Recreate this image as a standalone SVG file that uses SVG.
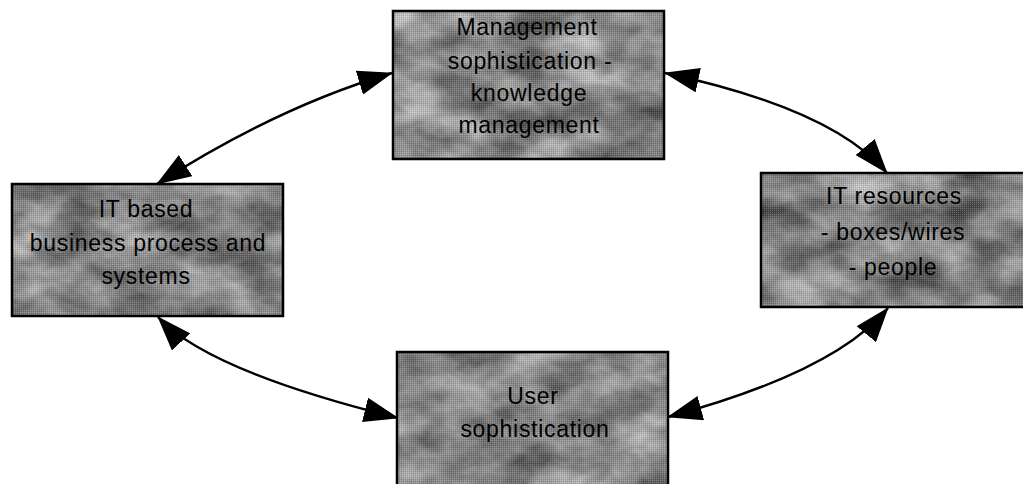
<svg xmlns="http://www.w3.org/2000/svg" width="1023" height="484" viewBox="0 0 1023 484">
<style>
.box{stroke:#000;stroke-width:2.5;fill:none}
.tex{fill:#888}
.lbl{font-family:"Liberation Sans",Arial,sans-serif;font-size:23px;letter-spacing:0.7px;fill:#000;text-anchor:middle}
.conn{fill:none;stroke:#000;stroke-width:2.5;marker-start:url(#ah);marker-end:url(#ah)}
</style>
<defs>
<marker id="ah" viewBox="0 0 35 25" refX="34" refY="12.5" markerWidth="35" markerHeight="25" markerUnits="userSpaceOnUse" orient="auto-start-reverse">
<path d="M0,0 L35,12.5 L0,25 z" fill="#000"/>
</marker>
<filter id="mottle" x="0" y="0" width="100%" height="100%" color-interpolation-filters="sRGB">
<feTurbulence type="fractalNoise" baseFrequency="0.018 0.03" numOctaves="4" seed="7" result="n"/>
<feColorMatrix in="n" type="matrix" values="0.75 0 0 0 0.14  0.75 0 0 0 0.14  0.75 0 0 0 0.14  0 0 0 0 1" result="g"/>
<feComposite in="g" in2="SourceGraphic" operator="in"/>
</filter>
<pattern id="dither" width="2" height="2" patternUnits="userSpaceOnUse">
<rect width="1" height="1" fill="#fff" opacity="0.2"/>
<rect x="1" y="1" width="1" height="1" fill="#000" opacity="0.15"/>
</pattern>
</defs>
<rect width="1023" height="484" fill="#fff"/>

<g id="connectors">
<path class="conn" d="M392,73 Q277,107 157,184"/>
<path class="conn" d="M665,73 Q833,109 887,173"/>
<path class="conn" d="M158,317 Q208,371 398,418"/>
<path class="conn" d="M888,308 Q835,372 668,417"/>
</g>

<g id="node-management">
<rect class="tex" x="393" y="11" width="271" height="148" filter="url(#mottle)"/>
<rect x="393" y="11" width="271" height="148" fill="url(#dither)"/>
<rect class="box" x="393" y="11" width="271" height="148"/>
<text class="lbl" x="527" y="35">Management</text>
<text class="lbl" x="530" y="69">sophistication -</text>
<text class="lbl" x="529" y="101">knowledge</text>
<text class="lbl" x="529" y="133">management</text>
</g>

<g id="node-it-business">
<rect class="tex" x="12" y="184" width="271" height="132" filter="url(#mottle)"/>
<rect x="12" y="184" width="271" height="132" fill="url(#dither)"/>
<rect class="box" x="12" y="184" width="271" height="132"/>
<text class="lbl" x="146" y="217">IT based</text>
<text class="lbl" x="148" y="251">business process and</text>
<text class="lbl" x="146" y="284">systems</text>
</g>

<g id="node-it-resources">
<rect class="tex" x="761" y="173" width="270" height="134" filter="url(#mottle)"/>
<rect x="761" y="173" width="270" height="134" fill="url(#dither)"/>
<rect class="box" x="761" y="173" width="270" height="134"/>
<text class="lbl" x="894" y="204">IT resources</text>
<text class="lbl" x="893" y="240">- boxes/wires</text>
<text class="lbl" x="893" y="275">- people</text>
</g>

<g id="node-user">
<rect class="tex" x="397" y="352" width="271" height="140" filter="url(#mottle)"/>
<rect x="397" y="352" width="271" height="140" fill="url(#dither)"/>
<rect class="box" x="397" y="352" width="271" height="140"/>
<text class="lbl" x="533" y="404">User</text>
<text class="lbl" x="535" y="437">sophistication</text>
</g>
</svg>
